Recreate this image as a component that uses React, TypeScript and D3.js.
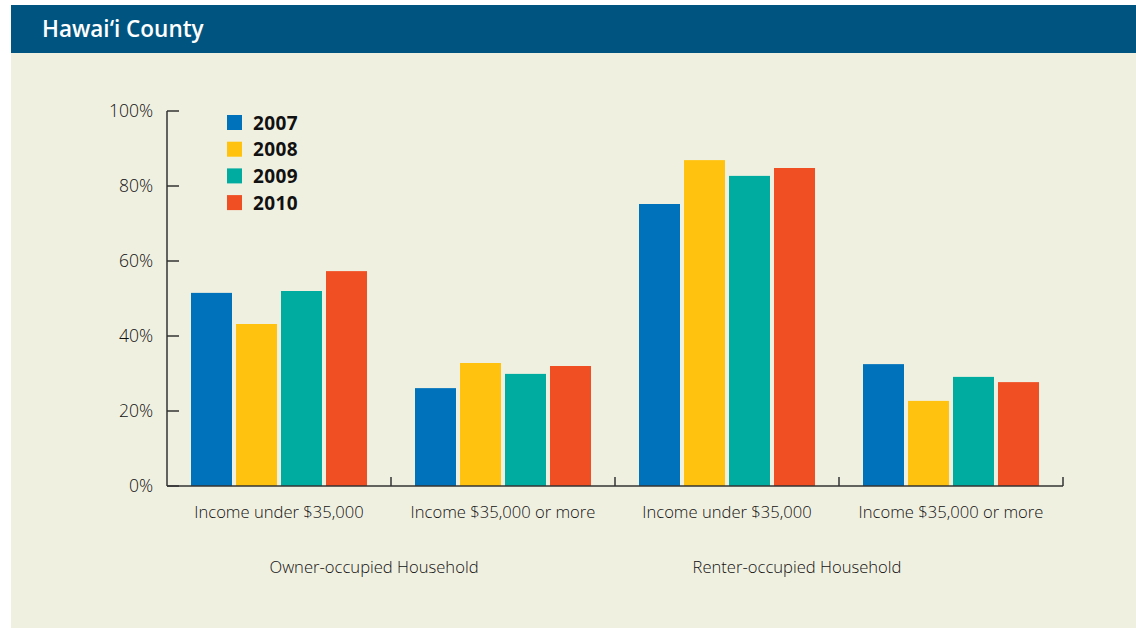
import React from "react";
import * as d3 from "d3";

const years = ["2007", "2008", "2009", "2010"];
const categories = [
  "Income under $35,000",
  "Income $35,000 or more",
  "Income under $35,000",
  "Income $35,000 or more",
];
const groupLabels = ["Owner-occupied Household", "Renter-occupied Household"];
const values2007 = [51.5, 26.1, 75.2, 32.5];
const values2008 = [43.2, 32.8, 86.9, 22.7];
const values2009 = [52.0, 29.9, 82.7, 29.1];
const values2010 = [57.3, 32.0, 84.8, 27.7];
const yTicks = [0, 20, 40, 60, 80, 100];
const colors = ["#0072bb", "#ffc20e", "#00aba0", "#f04e23"];

export default function App() {
  const W = 1136, H = 628;
  const series = [values2007, values2008, values2009, values2010];
  const x0 = d3.scaleBand<number>().domain(d3.range(categories.length)).range([167, 1063]).paddingInner(0).paddingOuter(0);
  const inner = 176 / 224;
  const x1 = d3
    .scaleBand<number>()
    .domain(d3.range(years.length))
    .range([(x0.bandwidth() * (1 - inner)) / 2, (x0.bandwidth() * (1 + inner)) / 2])
    .paddingInner(4 / 45)
    .paddingOuter(0);
  const y = d3.scaleLinear().domain([0, 100]).range([486, 111]);
  const axisColor = "#333";
  const font = "'Open Sans', sans-serif";
  const groupCenters = [(x0(0) as number) + 207, (x0(2) as number) + 182];
  return (
    <svg width={W} height={H} style={{ position: "absolute", left: 0, top: 0 }}>
      <rect x={11} y={5} width={W - 11} height={48} fill="#005580" />
      <rect x={11} y={53} width={W - 11} height={H - 53} fill="#f0f0e1" />
      <text x={42} y={37} fill="#fff" fontFamily={font} fontWeight={600} fontSize={22.5}>
        Hawai‘i County
      </text>
      {series.map((vals, si) =>
        vals.map((v, ci) => (
          <rect
            key={`${si}-${ci}`}
            x={(x0(ci) as number) + (x1(si) as number)}
            y={y(v)}
            width={x1.bandwidth()}
            height={y(0) - y(v)}
            fill={colors[si]}
          />
        ))
      )}
      <line x1={167} x2={167} y1={y(100)} y2={y(0)} stroke={axisColor} strokeWidth={1.5} />
      <line x1={167} x2={1063} y1={y(0)} y2={y(0)} stroke={axisColor} strokeWidth={1.5} />
      {yTicks.map((t) => (
        <g key={t}>
          <line x1={167} x2={179} y1={y(t)} y2={y(t)} stroke={axisColor} strokeWidth={1.5} />
          <text x={153} y={y(t) + 6} textAnchor="end" fontFamily={font} fontWeight={300} fontSize={17.5} fill="#111">
            {t}%
          </text>
        </g>
      ))}
      {d3.range(1, categories.length + 1).map((i) => {
        const xx = i === categories.length ? 1063 : (x0(i) as number);
        return <line key={i} x1={xx} x2={xx} y1={y(0)} y2={y(0) - 9} stroke={axisColor} strokeWidth={1.5} />;
      })}
      {categories.map((c, i) => (
        <text
          key={i}
          x={(x0(i) as number) + x0.bandwidth() / 2}
          y={518}
          textAnchor="middle"
          fontFamily={font}
          fontWeight={300}
          fontSize={16.6}
          fill="#111"
        >
          {c}
        </text>
      ))}
      {groupLabels.map((g, i) => (
        <text
          key={g}
          x={groupCenters[i]}
          y={573}
          textAnchor="middle"
          fontFamily={font}
          fontWeight={300}
          fontSize={16.6}
          fill="#111"
        >
          {g}
        </text>
      ))}
      {years.map((yr, i) => (
        <g key={yr} transform={`translate(227, ${115 + i * 26.7})`}>
          <rect width={15} height={15} fill={colors[i]} />
          <text x={26} y={14.5} fontFamily={font} fontWeight={700} fontSize={19} letterSpacing={0.4} fill="#111">
            {yr}
          </text>
        </g>
      ))}
    </svg>
  );
}
